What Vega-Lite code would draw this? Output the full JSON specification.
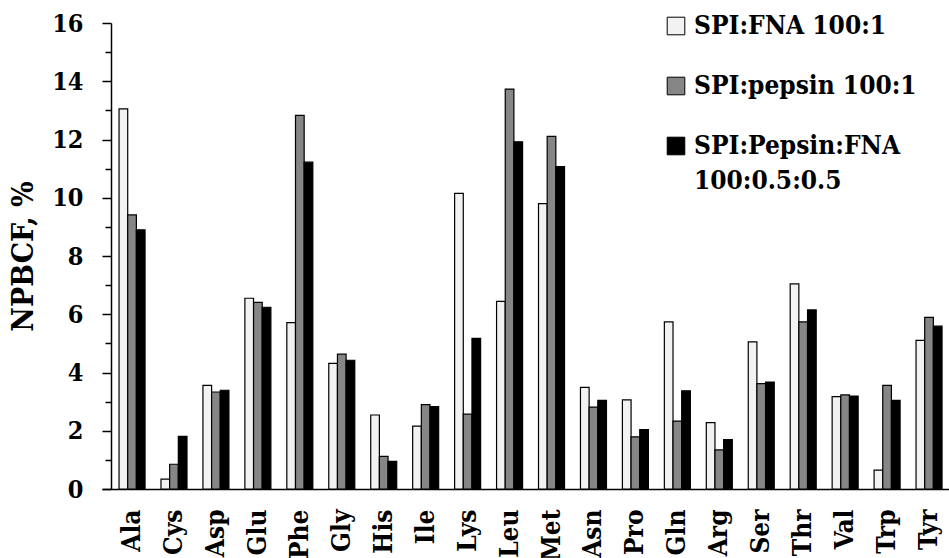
{
  "$schema": "https://vega.github.io/schema/vega-lite/v6.json",
  "autosize": {"type": "none"},
  "padding": {"left": 102, "top": 23, "right": 0, "bottom": 69},
  "width": 847,
  "height": 466,
  "background": "white",
  "config": {
    "view": {"stroke": null},
    "axis": {"grid": false, "domainColor": "black", "tickColor": "black", "labelColor": "black", "titleColor": "black", "labelFontWeight": "bold", "titleFontWeight": "bold", "domainWidth": 1.5, "tickWidth": 1.5},
    "legend": {"labelFont": "DejaVu Serif Condensed", "labelFontWeight": "bold", "labelColor": "black"}
  },
  "data": {
    "values": [
      {"aa": "Ala", "a": 13.05, "b": 9.41, "c": 8.90},
      {"aa": "Cys", "a": 0.34, "b": 0.85, "c": 1.81},
      {"aa": "Asp", "a": 3.56, "b": 3.33, "c": 3.39},
      {"aa": "Glu", "a": 6.55, "b": 6.41, "c": 6.24},
      {"aa": "Phe", "a": 5.71, "b": 12.83, "c": 11.22},
      {"aa": "Gly", "a": 4.31, "b": 4.63, "c": 4.42},
      {"aa": "His", "a": 2.54, "b": 1.12, "c": 0.95},
      {"aa": "Ile", "a": 2.16, "b": 2.90, "c": 2.83},
      {"aa": "Lys", "a": 10.15, "b": 2.57, "c": 5.17},
      {"aa": "Leu", "a": 6.44, "b": 13.73, "c": 11.92},
      {"aa": "Met", "a": 9.80, "b": 12.11, "c": 11.07},
      {"aa": "Asn", "a": 3.49, "b": 2.81, "c": 3.04},
      {"aa": "Pro", "a": 3.06, "b": 1.79, "c": 2.04},
      {"aa": "Gln", "a": 5.74, "b": 2.33, "c": 3.37},
      {"aa": "Arg", "a": 2.28, "b": 1.34, "c": 1.70},
      {"aa": "Ser", "a": 5.05, "b": 3.62, "c": 3.67},
      {"aa": "Thr", "a": 7.04, "b": 5.74, "c": 6.15},
      {"aa": "Val", "a": 3.17, "b": 3.23, "c": 3.19},
      {"aa": "Trp", "a": 0.65, "b": 3.56, "c": 3.04},
      {"aa": "Tyr", "a": 5.10, "b": 5.89, "c": 5.59}
    ]
  },
  "transform": [
    {"fold": ["a", "b", "c"], "as": ["key", "value"]},
    {"lookup": "key", "from": {"data": {"values": [
      {"key": "a", "series": "SPI:FNA 100:1"},
      {"key": "b", "series": "SPI:pepsin 100:1"},
      {"key": "c", "series": "SPI:Pepsin:FNA 100:0.5:0.5"}
    ]}, "key": "key", "fields": ["series"]}}
  ],
  "encoding": {
    "x": {
      "field": "aa", "type": "nominal", "sort": null,
      "scale": {"paddingInner": 0.38, "paddingOuter": 0.286, "align": 0.71},
      "axis": {"title": null, "labelFont": "DejaVu Serif Condensed", "labelAngle": -90, "labelFontSize": 26, "labelPadding": 20, "ticks": false, "domainWidth": 1.5}
    },
    "xOffset": {"field": "series", "type": "nominal", "sort": ["SPI:FNA 100:1", "SPI:pepsin 100:1", "SPI:Pepsin:FNA 100:0.5:0.5"], "scale": {"paddingInner": 0, "paddingOuter": 0}},
    "y": {"field": "value", "type": "quantitative"}
  },
  "layer": [
    {
      "mark": {"type": "bar", "stroke": "black", "strokeWidth": 1.2},
      "encoding": {
        "y": {
          "field": "value", "type": "quantitative",
          "scale": {"domain": [0, 16], "nice": false},
          "axis": {"title": "NPBCF, %", "titleFont": "DejaVu Serif Condensed", "labelFont": "DejaVu Serif Condensed", "titleFontSize": 30, "titlePadding": 13, "values": [0, 2, 4, 6, 8, 10, 12, 14, 16], "labelFontSize": 25, "tickSize": 9, "offset": -9, "labelPadding": 19}
        },
        "fill": {
          "field": "series", "type": "nominal",
          "sort": ["SPI:FNA 100:1", "SPI:pepsin 100:1", "SPI:Pepsin:FNA 100:0.5:0.5"],
          "scale": {"range": ["#f2f2f2", "#868686", "#000000"]},
          "legend": {
            "title": null, "orient": "none", "legendX": 561, "legendY": -10,
            "symbolType": "square", "symbolSize": 310, "symbolStrokeColor": "black", "symbolStrokeWidth": 1,
            "labelFontSize": 26, "labelOffset": 5, "rowPadding": 34, "labelLimit": 400,
            "labelExpr": "datum.value == 'SPI:Pepsin:FNA 100:0.5:0.5' ? ['SPI:Pepsin:FNA', '100:0.5:0.5'] : datum.value",
            "encode": {"labels": {"update": {"lineHeight": {"value": 35}}}}
          }
        }
      }
    },
    {
      "mark": {"type": "bar", "opacity": 0},
      "encoding": {
        "y": {
          "field": "value", "type": "quantitative",
          "axis": {"title": null, "orient": "left", "values": [1, 3, 5, 7, 9, 11, 13, 15], "labels": false, "domain": false, "tickSize": 6, "offset": -9}
        }
      }
    }
  ],
  "resolve": {"axis": {"y": "independent"}}
}
